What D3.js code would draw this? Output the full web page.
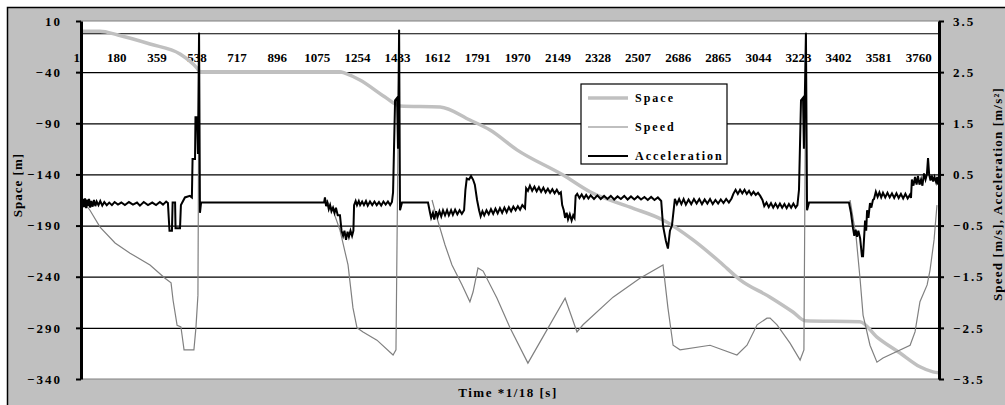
<!DOCTYPE html>
<html>
<head>
<meta charset="utf-8">
<script src="https://cdn.jsdelivr.net/npm/d3@7"></script>
<style>
  body { margin: 0; background: #fff; }
</style>
</head>
<body>
<svg id="chart" width="1005" height="405"></svg>
<script>
// category ticks shown on the time axis
const timeTicks = [1, 180, 359, 538, 717, 896, 1075, 1254, 1433, 1612, 1791, 1970,
  2149, 2328, 2507, 2686, 2865, 3044, 3223, 3402, 3581, 3760];
const spaceTicks = [10, -40, -90, -140, -190, -240, -290, -340];
const rightTicks = [3.5, 2.5, 1.5, 0.5, -0.5, -1.5, -2.5, -3.5];
const seriesNames = ['Space', 'Speed', 'Acceleration'];

// [time index, metres]
const space = [[0, 0], [85, 0], [165, -3.7], [308, -12.5], [442, -22.3], [518, -36], [531, -39.5],
  [1156, -39.5], [1178, -41], [1245, -47.7], [1357, -64.3], [1424, -73], [1603, -74],
  [1736, -86.8], [1826, -96.6], [1946, -116], [2152, -140.6], [2272, -157], [2451, -172],
  [2598, -184.6], [2732, -204], [2852, -225.6], [2942, -243], [3076, -260], [3178, -274.5],
  [3232, -283], [3477, -284], [3553, -299], [3656, -314.6], [3745, -328], [3803, -333], [3830, -334]];

// [time index, m/s]  (null = gap)
const speed = [[4, 0], [40, -0.2], [85, -0.53], [152, -0.84], [219, -1.04], [308, -1.27],
  [375, -1.53], [402, -1.62], [411, -1.96], [429, -2.45], [446, -2.48], [451, -2.64],
  [460, -2.93], [504, -2.93], [513, -2.5], [522, -1.86], [527, 3.27], [528, null],
  [1094, 0], [1125, -0.2], [1156, -0.59], [1192, -1.27], [1214, -2.11], [1232, -2.5],
  [1259, -2.58], [1321, -2.74], [1393, -3.03], [1406, -2.93], [1420, 3.33], [1421, null],
  [1567, 0], [1585, -0.29], [1625, -0.88], [1656, -1.27], [1701, -1.66], [1736, -1.99],
  [1750, -1.8], [1772, -1.33], [1795, -1.39], [1857, -1.92], [1915, -2.5], [1995, -3.19],
  [2080, -2.54], [2161, -1.92], [2214, -2.58], [2241, -2.44], [2375, -1.9], [2495, -1.53],
  [2598, -1.27], [2620, -2.11], [2643, -2.84], [2674, -2.93], [2808, -2.84], [2928, -3.03],
  [2973, -2.84], [3018, -2.44], [3062, -2.31], [3076, -2.31], [3107, -2.44], [3165, -2.8],
  [3210, -3.13], [3227, -2.93], [3236, 3.27], [3237, null],
  [3433, 0], [3460, -0.72], [3478, -1.56], [3491, -2.25], [3522, -2.84], [3553, -3.17],
  [3580, -3.09], [3701, -2.84], [3723, -2.58], [3745, -1.99], [3777, -1.66], [3790, -1.37],
  [3808, -0.78], [3821, -0.1]];

// [time index, m/s^2]
const accel = [
  [0, -0.05], [5, -0.15], [9, 0.02], [14, -0.14], [18, 0.03], [23, -0.16], [27, 0.01], [32, -0.12],
  [36, 0.02], [41, -0.15], [46, -0.02], [52, -0.13], [58, 0], [64, -0.12], [70, -0.03], [78, -0.1],
  [86, -0.02], [95, -0.11], [104, -0.04], [115, -0.1], [126, -0.05], [138, -0.1], [150, -0.04],
  [165, -0.09], [180, -0.05], [196, -0.1], [214, -0.04], [232, -0.09], [250, -0.05], [263, -0.11],
  [280, -0.04], [299, -0.1], [318, -0.05], [335, -0.1], [352, -0.04], [366, -0.09], [380, -0.03],
  [388, -0.06], [395, -0.6], [406, -0.6], [409, -0.05], [420, -0.05], [422, -0.55], [442, -0.55],
  [446, -0.1], [464, 0.05], [486, 0.08], [495, 0.05], [498, 0.8], [509, 0.8], [511, 1.62],
  [518, 1.62], [522, 0.9], [527, 3.27], [531, -0.25], [536, -0.05], [1085, -0.05],
  [1089, 0.05], [1094, -0.12], [1100, -0.05], [1106, -0.18], [1112, -0.1], [1118, -0.22],
  [1125, -0.15], [1132, -0.25], [1138, -0.15], [1146, -0.3], [1156, -0.3], [1163, -0.6],
  [1170, -0.7], [1176, -0.6], [1183, -0.78], [1190, -0.62], [1196, -0.72], [1203, -0.6],
  [1210, -0.7], [1216, -0.6], [1219, -0.1], [1226, -0.02], [1232, -0.1], [1240, -0.02],
  [1246, -0.1], [1255, -0.03], [1263, -0.1], [1272, -0.02], [1280, -0.11], [1290, -0.03],
  [1300, -0.1], [1310, -0.03], [1320, -0.1], [1330, -0.04], [1340, -0.11], [1350, -0.03],
  [1360, -0.09], [1370, -0.03], [1380, -0.1], [1388, -0.04], [1393, 0.15], [1402, 1.95],
  [1411, 2.0], [1415, 1.0], [1420, 3.33], [1424, -0.2], [1433, -0.05], [1549, -0.05],
  [1558, -0.25], [1563, -0.35], [1571, -0.25], [1577, -0.38], [1585, -0.22], [1592, -0.33],
  [1600, -0.22], [1608, -0.32], [1616, -0.2], [1625, -0.3], [1634, -0.2], [1642, -0.3],
  [1652, -0.2], [1660, -0.29], [1670, -0.19], [1680, -0.28], [1690, -0.2], [1700, -0.27],
  [1710, -0.2], [1716, 0.2], [1722, 0.42], [1732, 0.4], [1741, 0.47], [1750, 0.4], [1758, 0.3],
  [1768, 0], [1777, -0.2], [1784, -0.32], [1792, -0.22], [1800, -0.3], [1810, -0.2],
  [1820, -0.28], [1830, -0.18], [1840, -0.27], [1850, -0.17], [1860, -0.26], [1870, -0.16],
  [1880, -0.25], [1890, -0.15], [1900, -0.24], [1910, -0.14], [1920, -0.22], [1930, -0.13],
  [1940, -0.2], [1950, -0.12], [1960, -0.19], [1970, -0.1], [1982, -0.16], [1987, 0.23],
  [1995, 0.18], [2004, 0.28], [2014, 0.18], [2024, 0.26], [2034, 0.17], [2044, 0.25],
  [2054, 0.16], [2064, 0.24], [2074, 0.15], [2084, 0.22], [2094, 0.14], [2104, 0.21],
  [2114, 0.13], [2124, 0.2], [2134, 0.12], [2142, 0.15], [2148, -0.1], [2155, -0.2],
  [2161, -0.35], [2168, -0.25], [2174, -0.38], [2182, -0.28], [2190, -0.4], [2197, -0.3],
  [2203, -0.35], [2208, 0.08], [2215, 0.12], [2225, 0.04], [2235, 0.11], [2245, 0.03],
  [2255, 0.1], [2265, 0.03], [2275, 0.09], [2290, 0.02], [2305, 0.09], [2320, 0.02],
  [2335, 0.08], [2350, 0.02], [2365, 0.08], [2380, 0.01], [2395, 0.07], [2410, 0.02],
  [2425, 0.08], [2440, 0.01], [2455, 0.07], [2470, 0.01], [2485, 0.07], [2500, 0.01],
  [2515, 0.06], [2530, 0], [2545, 0.06], [2560, 0], [2575, 0.05], [2590, -0.02],
  [2598, -0.5], [2611, -0.8], [2620, -0.95], [2629, -0.6], [2638, -0.5], [2651, 0.02],
  [2660, -0.08], [2670, 0.02], [2680, -0.08], [2690, 0.02], [2700, -0.09], [2712, 0.01],
  [2724, -0.08], [2736, 0.02], [2748, -0.07], [2760, 0.02], [2772, -0.08], [2784, 0.01],
  [2796, -0.07], [2808, 0.02], [2820, -0.08], [2832, 0], [2844, -0.07], [2856, 0.01],
  [2868, -0.06], [2880, 0.02], [2892, -0.05], [2904, 0.03], [2912, 0.12], [2922, 0.2],
  [2932, 0.12], [2942, 0.2], [2952, 0.13], [2962, 0.2], [2972, 0.12], [2982, 0.18],
  [2992, 0.1], [3002, 0.16], [3012, 0.1], [3022, 0.14], [3032, 0.08], [3042, 0],
  [3050, -0.12], [3060, -0.05], [3070, -0.14], [3080, -0.06], [3090, -0.15], [3100, -0.07],
  [3110, -0.15], [3120, -0.07], [3130, -0.15], [3140, -0.08], [3150, -0.16], [3160, -0.08],
  [3170, -0.15], [3180, -0.07], [3190, -0.15], [3198, -0.1], [3205, 0.2], [3214, 1.95],
  [3223, 2.0], [3227, 1.0], [3236, 3.27], [3241, -0.2], [3250, -0.05], [3428, -0.05],
  [3437, -0.25], [3446, -0.55], [3452, -0.7], [3458, -0.58], [3464, -0.72], [3470, -0.6],
  [3478, -0.75], [3486, -1.1], [3491, -1.1], [3500, -0.4], [3505, -0.6], [3509, -0.2],
  [3515, -0.35], [3522, -0.06], [3528, -0.15], [3535, 0], [3540, 0.02], [3548, 0.16],
  [3556, 0.06], [3564, 0.15], [3572, 0.05], [3580, 0.14], [3590, 0.05], [3600, 0.14],
  [3610, 0.05], [3620, 0.13], [3630, 0.04], [3640, 0.13], [3650, 0.04], [3660, 0.12],
  [3670, 0.03], [3680, 0.12], [3690, 0.03], [3700, 0.1], [3705, 0.04], [3709, 0.4],
  [3716, 0.28], [3723, 0.45], [3730, 0.3], [3736, 0.47], [3743, 0.3], [3750, 0.4],
  [3756, 0.28], [3763, 0.52], [3770, 0.4], [3776, 0.5], [3781, 0.82], [3786, 0.5],
  [3792, 0.38], [3798, 0.48], [3804, 0.36], [3810, 0.45], [3817, 0.35], [3822, 0.45],
  [3826, 0.3]];

const xAxisCross = -2; // space value where the time axis sits
const FONT = '"Liberation Serif", "Times New Roman", Times, serif';

const svg = d3.select('#chart');
const plot = { left: 81, right: 939, top: 21, bottom: 379 };

const x = d3.scaleLinear().domain([0, 3830]).range([plot.left, plot.right]);
const yLeft = d3.scaleLinear().domain([-340, 10]).range([plot.bottom, plot.top]);
const yRight = d3.scaleLinear().domain([-3.5, 3.5]).range([plot.bottom, plot.top]);

// chart area background
svg.append('rect')
  .attr('x', 7.5).attr('y', 7.5).attr('width', 1010).attr('height', 410)
  .attr('fill', '#c0c0c0').attr('stroke', '#000').attr('stroke-width', 1.5);

svg.append('rect')
  .attr('x', plot.left).attr('y', plot.top)
  .attr('width', plot.right - plot.left).attr('height', plot.bottom - plot.top)
  .attr('fill', '#fff').attr('stroke', '#808080').attr('stroke-width', 1);

// gridlines
svg.append('g')
  .attr('transform', `translate(${plot.left},0)`)
  .call(d3.axisLeft(yLeft).tickValues(spaceTicks.slice(1, -1))
    .tickSize(-(plot.right - plot.left)).tickFormat(''))
  .call((g) => g.select('.domain').remove())
  .call((g) => g.selectAll('line').attr('stroke', '#000').attr('stroke-width', 1.2));

// time axis (crosses near zero of space)
const xAxis = svg.append('g')
  .attr('transform', `translate(0,${yLeft(xAxisCross)})`)
  .call(d3.axisBottom(x).tickValues(timeTicks).tickSize(0).tickPadding(20)
    .tickFormat(d3.format('d')));
xAxis.select('.domain').attr('stroke', '#000').attr('stroke-width', 1.2);
xAxis.selectAll('text')
  .attr('dx', -5)
  .attr('font-size', 13)
  .attr('fill', '#000');

// series
svg.append('clipPath').attr('id', 'plotclip').append('rect')
  .attr('x', plot.left).attr('y', plot.top)
  .attr('width', plot.right - plot.left).attr('height', plot.bottom - plot.top);

const series = svg.append('g').attr('clip-path', 'url(#plotclip)');

const spaceLine = d3.line()
  .x((d) => x(d[0]))
  .y((d) => yLeft(d[1]))
  .curve(d3.curveMonotoneX);

const rightLine = d3.line()
  .defined((d) => d[1] !== null)
  .x((d) => x(d[0]))
  .y((d) => yRight(d[1]));

series.append('path').datum(space)
  .attr('d', spaceLine)
  .attr('fill', 'none').attr('stroke', '#c0c0c0').attr('stroke-width', 3.5);

series.append('path').datum(speed)
  .attr('d', rightLine)
  .attr('fill', 'none').attr('stroke', '#808080').attr('stroke-width', 1.2);

series.append('path').datum(accel)
  .attr('d', rightLine)
  .attr('fill', 'none').attr('stroke', '#000').attr('stroke-width', 2);

// left axis
const leftAxis = svg.append('g')
  .attr('transform', `translate(${plot.left},0)`)
  .call(d3.axisLeft(yLeft).tickValues(spaceTicks).tickSize(5).tickSizeOuter(0).tickPadding(14));
leftAxis.select('.domain').attr('stroke', '#000').attr('stroke-width', 3);
leftAxis.selectAll('line').attr('stroke', '#000').attr('stroke-width', 2);
leftAxis.selectAll('text').attr('font-size', 13).attr('letter-spacing', 2).attr('fill', '#000');

// right axis
const rightAxis = svg.append('g')
  .attr('transform', `translate(${plot.right},0)`)
  .call(d3.axisRight(yRight).tickValues(rightTicks).tickSize(5).tickSizeOuter(0)
    .tickPadding(9).tickFormat(d3.format('.1f')));
rightAxis.select('.domain').attr('stroke', '#000').attr('stroke-width', 3);
rightAxis.selectAll('line').attr('stroke', '#000').attr('stroke-width', 2);
rightAxis.selectAll('text').attr('font-size', 13).attr('letter-spacing', 2).attr('fill', '#000');

// axis titles
svg.append('text')
  .attr('transform', 'translate(22,185) rotate(-90)')
  .attr('text-anchor', 'middle')
  .attr('font-size', 13).attr('letter-spacing', 1)
  .text('Space [m]');

svg.append('text')
  .attr('transform', 'translate(1002,194) rotate(-90)')
  .attr('text-anchor', 'middle')
  .attr('font-size', 13).attr('letter-spacing', 1.2)
  .text('Speed [m/s], Acceleration [m/s²]');

svg.append('text')
  .attr('x', 508).attr('y', 397)
  .attr('text-anchor', 'middle')
  .attr('font-size', 13).attr('letter-spacing', 1.5)
  .text('Time *1/18 [s]');

// legend
const legend = svg.append('g').attr('transform', 'translate(581,84)');
legend.append('rect')
  .attr('width', 146).attr('height', 80)
  .attr('fill', '#fff').attr('stroke', '#000').attr('stroke-width', 1.2);

const legendStyles = [
  { color: '#c0c0c0', width: 3.5 },
  { color: '#808080', width: 1.2 },
  { color: '#000', width: 2 },
];
const legendY = d3.scalePoint().domain(seriesNames).range([14, 72]);

seriesNames.forEach((name, i) => {
  const yy = legendY(name);
  legend.append('line')
    .attr('x1', 7).attr('x2', 47).attr('y1', yy).attr('y2', yy)
    .attr('stroke', legendStyles[i].color).attr('stroke-width', legendStyles[i].width);
  legend.append('text')
    .attr('x', 54).attr('y', yy + 4)
    .attr('font-size', 12).attr('letter-spacing', 2)
    .text(name);
});

// one serif face for every label
svg.selectAll('g').attr('font-family', null);
svg.selectAll('text')
  .attr('font-family', FONT)
  .attr('font-weight', 'bold');
</script>
</body>
</html>
